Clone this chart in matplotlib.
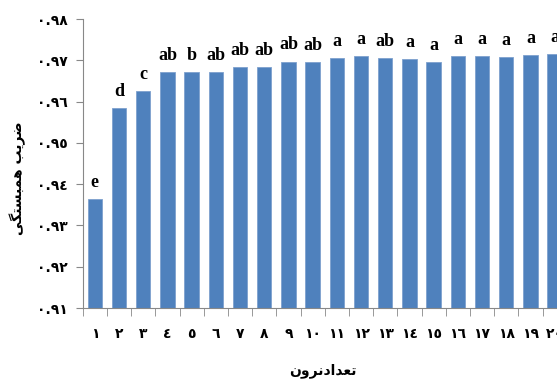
import matplotlib
matplotlib.use("Agg")
import matplotlib.pyplot as plt

# neuron count 1..20 and the correlation coefficient of each network
neurons = list(range(1, 21))
r_values = [0.9363, 0.9584, 0.9626, 0.9671, 0.9671, 0.9671, 0.9684, 0.9684, 0.9697, 0.9695,
            0.9705, 0.9710, 0.9705, 0.9702, 0.9695, 0.9710, 0.9710, 0.9707, 0.9713, 0.9715]
groups = ["e", "d", "c", "ab", "b", "ab", "ab", "ab", "ab", "ab",
          "a", "a", "ab", "a", "a", "a", "a", "a", "a", "a"]
y_ticks = [0.91, 0.92, 0.93, 0.94, 0.95, 0.96, 0.97, 0.98]

AR_DIGITS = str.maketrans("0123456789", "٠١٢٣٤٥٦٧٨٩")


def ar(num_text):
    return num_text.translate(AR_DIGITS)


# presentation forms, already in visual (left-to-right) order
xlabel = "\uFEE5\uFEED\uFEAE\uFEE7\uFEA9\uFE8D\uFEAA\uFECC\uFE97"          # تعدادنرون
ylabel = "\uFEF0\uFB95\uFE98\uFEB4\uFE92\uFEE4\uFEEB \uFE90\uFEF3\uFEAE\uFEBF"  # ضریب همبستگی

fig = plt.figure(figsize=(5.57, 3.81), dpi=100)
ax = fig.add_axes([82.7 / 557, 1 - 308 / 381, 484 / 557, 289 / 381])

x = range(len(neurons))
bars = ax.bar(x, r_values, width=0.6, color="#4F81BD", edgecolor="#7EA1CE", linewidth=0.6)

for i, (v, g) in enumerate(zip(r_values, groups)):
    ax.annotate(g, (i, v), xytext=(0, 6), textcoords="offset points",
                ha="center", va="bottom", fontsize=13, fontweight="bold",
                family=["Liberation Serif", "DejaVu Serif"])

ax.set_ylim(0.91, 0.98)
ax.set_xlim(-0.5, len(neurons) - 0.5)
ax.set_yticks(y_ticks)
ax.set_yticklabels([ar(f"{t:.2f}") for t in y_ticks], fontsize=10, fontweight="bold",
                   family="DejaVu Sans")
ax.set_xticks(list(x))
ax.set_xticklabels([ar(str(n)) for n in neurons], fontsize=10, fontweight="bold",
                   family="DejaVu Sans")
ax.set_xticks([i + 0.5 for i in range(-1, len(neurons))], minor=True)

ax.tick_params(axis="x", which="major", length=0, pad=14)
ax.tick_params(axis="x", which="minor", length=6, color="#888888", direction="out")
ax.tick_params(axis="y", length=5, color="#888888", pad=6)

for side in ("top", "right"):
    ax.spines[side].set_visible(False)
for side in ("left", "bottom"):
    ax.spines[side].set_color("#888888")

fig.text(323 / 557, 1 - 371 / 381, xlabel, ha="center", va="center",
         fontsize=10, fontweight="bold", family="DejaVu Sans")
fig.text(18 / 557, 1 - 178 / 381, ylabel, ha="center", va="center", rotation=90,
         fontsize=10, fontweight="bold", family="DejaVu Sans")

fig.savefig("out.png", dpi=100)
